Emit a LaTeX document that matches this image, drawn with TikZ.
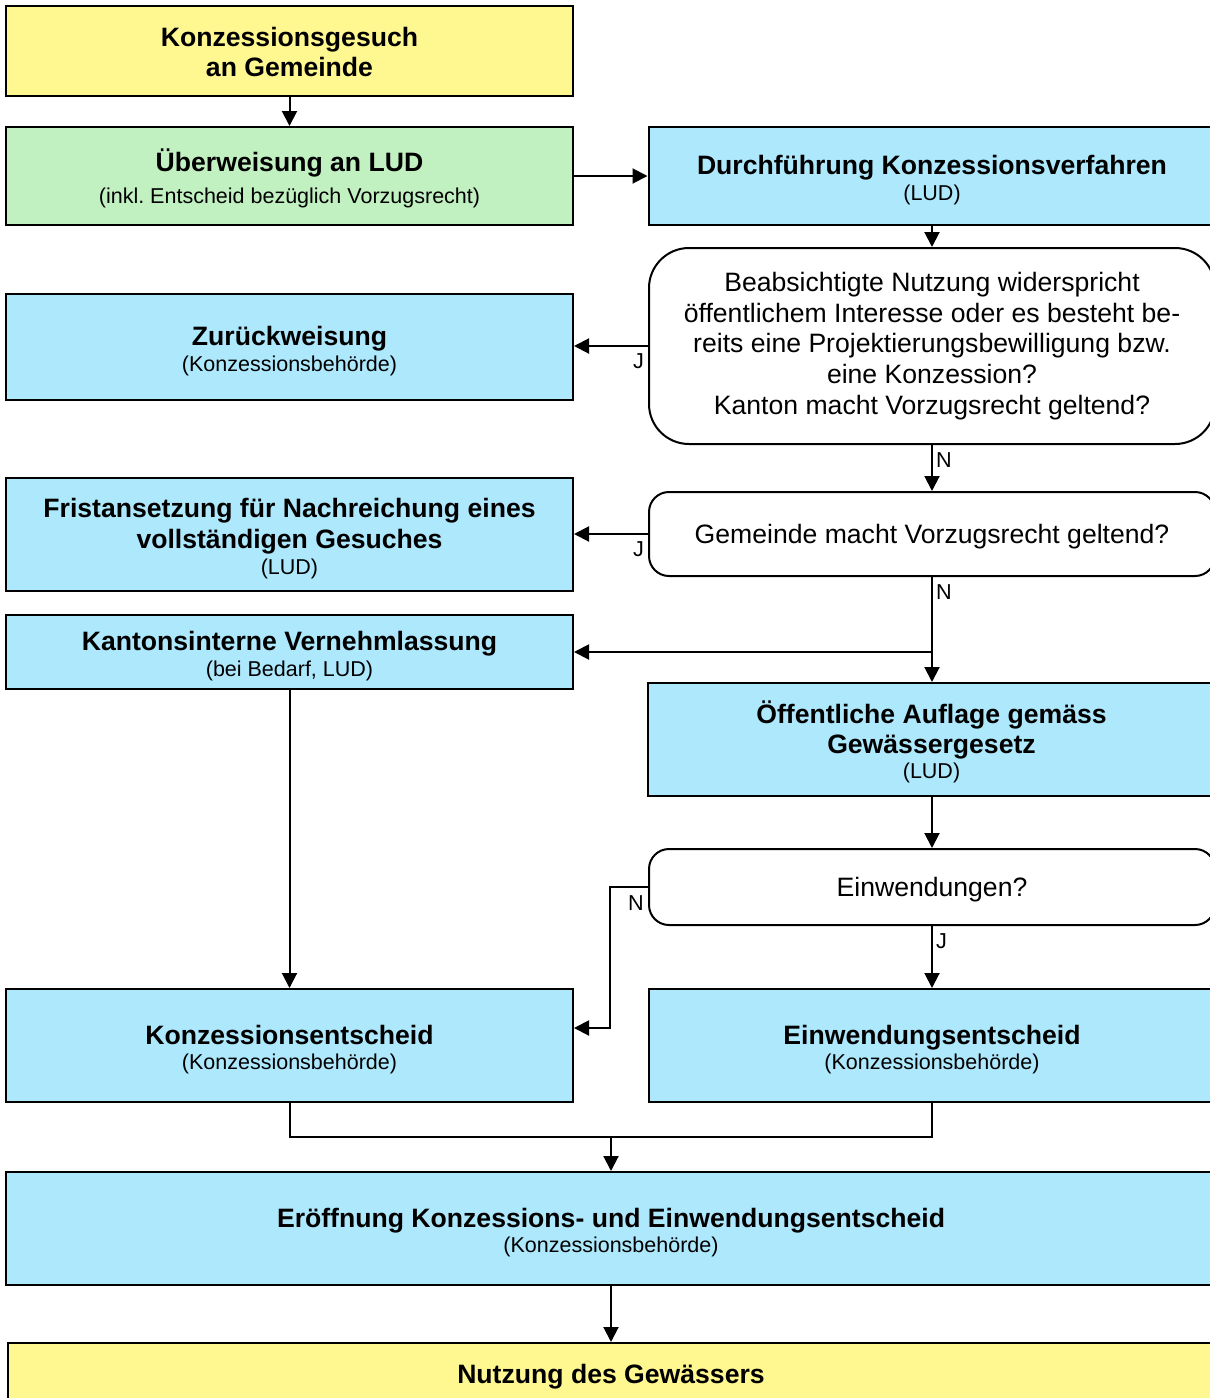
\documentclass[tikz,border=0pt]{standalone}
\usepackage{fontspec}
\setmainfont{Liberation Sans}
\usetikzlibrary{arrows.meta}
\definecolor{gelb}{RGB}{255,247,143}
\definecolor{gruen}{RGB}{193,240,193}
\definecolor{blau}{RGB}{173,232,252}
\frenchspacing
\newcommand\kopf[1]{\rule{0pt}{27.5pt}\textbf{#1}}
\newcommand\zusatz[1]{{\fontsize{21.5}{26}\selectfont #1}}

\begin{document}
\begin{tikzpicture}[x=1pt,y=-1pt,every text node part/.style={align=center},
  box/.style={draw=black,line width=2pt,inner sep=0pt,font=\fontsize{26.6}{30.7}\selectfont,
    execute at begin node={\rule{0pt}{25pt}}},
  yellowbox/.style={box,fill=gelb,minimum width=567,font=\fontsize{26.6}{30.7}\selectfont\bfseries},
  greenbox/.style={box,fill=gruen,minimum width=567},
  bluebox/.style={box,fill=blau,minimum width=567},
  question/.style={box,fill=white,rounded corners=20pt,minimum width=566},
  arr/.style={line width=2pt,-{Triangle[length=15pt,width=15pt]}},
  lbl/.style={font=\fontsize{21.6}{24}\selectfont,inner sep=3pt,yshift=-4pt}]
\useasboundingbox (0,0) rectangle (1210,1398);
\node [yellowbox,minimum height=90] (gesuch) at (289.5,51) {\rule{0pt}{21pt}Konzessionsgesuch\\an Gemeinde};
\node [greenbox,minimum height=98] (ueberweisung) at (289.5,176) {\kopf{Überweisung an LUD}\\[2pt]\zusatz{(inkl. Entscheid bezüglich Vorzugsrecht)}};
\node [bluebox,minimum height=98] (verfahren) at (932,176) {\kopf{Durchführung Konzessionsverfahren}\\[-5pt]\zusatz{(LUD)}};
\node [question,rounded corners=40pt,minimum height=196] (frage1) at (932,346) {Beabsichtigte Nutzung widerspricht\\öffentlichem Interesse oder es besteht be-\\reits eine Projektierungsbewilligung bzw.\\eine Konzession?\\Kanton macht Vorzugsrecht geltend?};
\node [bluebox,minimum height=106] (zurueck) at (289.5,347) {\kopf{Zurückweisung}\\[-5pt]\zusatz{(Konzessionsbehörde)}};
\node [question,minimum height=84] (frage2) at (932,534) {Gemeinde macht Vorzugsrecht geltend?};
\node [bluebox,minimum height=113] (frist) at (289.5,534.5) {\kopf{Fristansetzung für Nachreichung eines}\\\textbf{vollständigen Gesuches}\\[-5pt]\zusatz{(LUD)}};
\node [bluebox,minimum height=74] (vernehm) at (289.5,652) {\kopf{Kantonsinterne Vernehmlassung}\\[-5pt]\zusatz{(bei Bedarf, LUD)}};
\node [bluebox,minimum height=113] (auflage) at (931.5,739.5) {\kopf{Öffentliche Auflage gemäss}\\[-1pt]\textbf{Gewässergesetz}\\[-5pt]\zusatz{(LUD)}};
\node [question,minimum height=76] (frage3) at (932,887) {Einwendungen?};
\node [bluebox,minimum height=113] (entscheid) at (289.5,1045.5) {\kopf{Konzessionsentscheid}\\[-5pt]\zusatz{(Konzessionsbehörde)}};
\node [bluebox,minimum width=566,minimum height=113] (einwend) at (932,1045.5) {\kopf{Einwendungsentscheid}\\[-5pt]\zusatz{(Konzessionsbehörde)}};
\node [bluebox,minimum width=1210,minimum height=113] (eroeffnung) at (611,1228.5) {\kopf{Eröffnung Konzessions- und Einwendungsentscheid}\\[-5pt]\zusatz{(Konzessionsbehörde)}};
\node [yellowbox,minimum width=1206,minimum height=62] (nutzung) at (611,1374) {Nutzung des Gewässers};
\coordinate (abzweig) at (frage2.south |- vernehm.east);
\coordinate (knick) at ([xshift=-38pt]frage3.west);
\coordinate (sammel) at (eroeffnung.north |- 0,1137);
\draw [arr] (gesuch) -- (ueberweisung);
\draw [arr] (ueberweisung.east) -- (verfahren.west);
\draw [arr] (verfahren) -- (frage1);
\draw [arr] (frage1.west) -- (zurueck.east |- frage1.west) node [lbl,pos=0,below left] {J};
\draw [arr] (frage1) -- (frage2) node [lbl,pos=0,below right] {N};
\draw [arr] (frage2.west) -- (frist.east |- frage2.west) node [lbl,pos=0,below left] {J};
\draw [arr] (frage2.south) -- (frage2.south |- auflage.north) node [lbl,pos=0,below right] {N};
\draw [arr] (abzweig) -- (vernehm.east);
\draw [arr] (vernehm) -- (entscheid);
\draw [arr] (frage3.north |- auflage.south) -- (frage3.north);
\draw [arr] (frage3.west) -- (knick) |- ([yshift=17.5pt]entscheid.east);
\node [lbl,below left,inner sep=4pt] (nlabel) at (frage3.west) {N};
\draw [arr] (frage3) -- (einwend) node [lbl,pos=0,below right] {J};
\draw [line width=2pt] (entscheid.south) -- (entscheid.south |- sammel) -- (einwend.south |- sammel) -- (einwend.south);
\draw [arr] (sammel) -- (eroeffnung);
\draw [arr] (eroeffnung) -- (nutzung);
\end{tikzpicture}
\end{document}
